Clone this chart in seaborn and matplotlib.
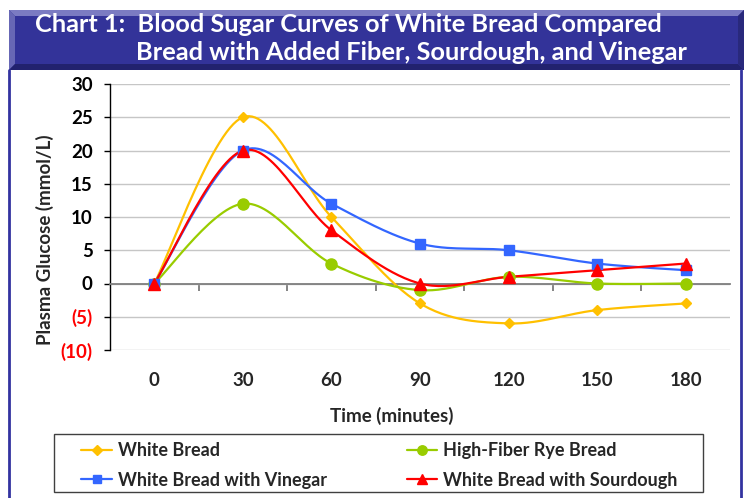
import numpy as np
import pandas as pd
import matplotlib.pyplot as plt
import seaborn as sns
from matplotlib.patches import Rectangle, Polygon
from matplotlib.lines import Line2D

# data
times = [0, 30, 60, 90, 120, 150, 180]
white_bread = [0, 25, 10, -3, -6, -4, -3]
high_fiber_rye = [0, 12, 3, -1, 1, 0, 0]
white_vinegar = [0, 20, 12, 6, 5, 3, 2]
white_sourdough = [0, 20, 8, 0, 1, 2, 3]

names = ['White Bread', 'High-Fiber Rye Bread',
         'White Bread with Vinegar', 'White Bread with Sourdough']
values = [white_bread, high_fiber_rye, white_vinegar, white_sourdough]
colors = ['#FFC000', '#99CC00', '#3366FF', '#FF0000']
markers = ['D', 'o', 's', '^']
msizes = [5.5, 8, 6.5, 8]

sns.set_style('white')
plt.rcParams['font.family'] = ['Lato', 'DejaVu Sans']
plt.rcParams['font.weight'] = 'bold'

W, H = 745, 498


def fx(x):
    return x / W


def fy(y):
    return 1 - y / H


def smooth(y, steps=30):
    # Excel style smoothed line (bezier through the points)
    y = np.asarray(y, float)
    x = np.arange(len(y), dtype=float)
    n = len(y)
    xs, ys = [], []
    t = np.linspace(0, 1, steps)
    for i in range(n - 1):
        a, b = max(i - 1, 0), min(i + 2, n - 1)
        c1x = x[i] + (x[i + 1] - x[a]) / 6
        c1y = y[i] + (y[i + 1] - y[a]) / 6
        c2x = x[i + 1] - (x[b] - x[i]) / 6
        c2y = y[i + 1] - (y[b] - y[i]) / 6
        bx = (1-t)**3*x[i] + 3*(1-t)**2*t*c1x + 3*(1-t)*t**2*c2x + t**3*x[i+1]
        by = (1-t)**3*y[i] + 3*(1-t)**2*t*c1y + 3*(1-t)*t**2*c2y + t**3*y[i+1]
        xs.append(bx)
        ys.append(by)
    return np.concatenate(xs), np.concatenate(ys)


fig = plt.figure(figsize=(W / 100, H / 100), dpi=100)

# title bar with bevel
x0, x1, y0, y1, bv = 9, 744, 10, 70, 6
def poly(pts, c):
    fig.patches.append(Polygon([(fx(a), fy(b)) for a, b in pts], closed=True,
                               transform=fig.transFigure, facecolor=c, edgecolor='none'))
poly([(x0, y0), (x1, y0), (x1, y1), (x0, y1)], '#333399')
poly([(x0, y0), (x1, y0), (x1 - bv, y0 + bv), (x0 + bv, y0 + bv)], '#7b7bc2')
poly([(x0, y0), (x0 + bv, y0 + bv), (x0 + bv, y1 - bv), (x0, y1)], '#6767b5')
poly([(x0, y1), (x0 + bv, y1 - bv), (x1 - bv, y1 - bv), (x1, y1)], '#22226e')
poly([(x1, y0), (x1, y1), (x1 - bv, y1 - bv), (x1 - bv, y0 + bv)], '#29297c')

fig.text(fx(35), fy(25), 'Chart 1:  Blood Sugar Curves of White Bread Compared',
         color='white', fontsize=18.3, fontweight='bold', va='center', ha='left')
fig.text(fx(136), fy(53), 'Bread with Added Fiber, Sourdough, and Vinegar',
         color='white', fontsize=18.3, fontweight='bold', va='center', ha='left')

# blue frame sides
fig.lines.append(Line2D([fx(9), fx(9)], [fy(70), 0], transform=fig.transFigure,
                        color='#3333a0', lw=2))
fig.lines.append(Line2D([fx(741), fx(741)], [fy(70), 0], transform=fig.transFigure,
                        color='#3333a0', lw=2))

ax = fig.add_axes([fx(110), fy(350), fx(620), 266 / H])

for name, vals, c, m, ms in zip(names, values, colors, markers, msizes):
    sx, sy = smooth(vals)
    sns.lineplot(x=sx, y=sy, ax=ax, color=c, lw=1.6, sort=False,
                 estimator=None, zorder=3)
    ax.plot(np.arange(len(vals)), vals, ls='none', marker=m, ms=ms,
            color=c, mec=c, zorder=4)

ax.set_xlim(-0.5, 6.5)
ax.set_ylim(-10, 30)
yt = list(range(-10, 31, 5))
ax.set_yticks(yt)
ax.set_yticklabels([f'({-v})' if v < 0 else str(v) for v in yt])
for lab, v in zip(ax.get_yticklabels(), yt):
    lab.set_color('red' if v < 0 else 'black')
ax.tick_params(axis='y', length=4.5, width=1, color='black', pad=8,
               labelsize=13.5, direction='out', left=True)

ax.set_xticks(range(len(times)))
ax.set_xticklabels([str(t) for t in times])
ax.set_xticks(np.arange(0.5, 6, 1), minor=True)
ax.tick_params(axis='x', which='major', length=0, pad=64, labelsize=13.5)
ax.tick_params(axis='x', which='minor', length=5, width=1.2, color='#707070',
               direction='out', bottom=True)

ax.yaxis.grid(True, color='#c6c6c6', lw=1)
ax.set_axisbelow(True)
for s in ['top', 'right']:
    ax.spines[s].set_visible(False)
ax.spines['left'].set_color('black')
ax.spines['left'].set_linewidth(1)
ax.spines['bottom'].set_position(('data', 0))
ax.spines['bottom'].set_color('#7f7f7f')
ax.spines['bottom'].set_linewidth(1.3)
ax.set_xlabel('')
ax.set_ylabel('')

fig.text(fx(392), fy(416), 'Time (minutes)', fontsize=13.5, fontweight='bold',
         ha='center', va='center')
fig.text(fx(45), fy(240), 'Plasma Glucose (mmol/L)', fontsize=13.5,
         fontweight='bold', ha='center', va='center', rotation=90)

# legend box
fig.patches.append(Rectangle((fx(54), fy(492)), fx(649), 58 / H,
                             transform=fig.transFigure, facecolor='none',
                             edgecolor='#404040', lw=1))
order = [0, 2, 1, 3]
handles = [Line2D([], [], color=colors[i], marker=markers[i], lw=1.6,
                  ms=msizes[i] * 0.85) for i in order]
fig.legend(handles, [names[i] for i in order], ncol=2, frameon=False,
           loc='upper left', bbox_to_anchor=(fx(76), fy(437)),
           borderaxespad=0, handlelength=1.7, handletextpad=0.33,
           columnspacing=4.4, labelspacing=0.68, borderpad=0.3,
           prop={'weight': 'bold', 'size': 13})

fig.savefig('out.png', dpi=100)
